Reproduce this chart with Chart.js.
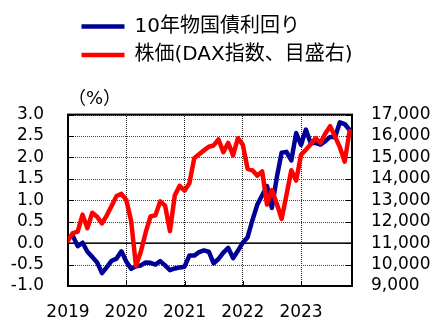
<!DOCTYPE html>
<html lang="ja">
<head>
<meta charset="utf-8">
<title>10年物国債利回りと株価</title>
<script src="https://cdn.jsdelivr.net/npm/chart.js@4/dist/chart.umd.min.js"></script>
<style>
    html, body { margin: 0; padding: 0; background: #fff; }
    canvas { display: block; }
</style>
</head>
<body>
<canvas id="bund_dax_chart" width="432" height="321"></canvas>
<script>
// 月次データ 2019年1月 ～ 2023年11月
const years = ['2019', '2020', '2021', '2022', '2023'];

// 左軸の目盛 (%)
const pctTicks = [-1.0, -0.5, 0.0, 0.5, 1.0, 1.5, 2.0, 2.5, 3.0];

// 10年物国債利回り (%)
const bundYield = [
    0.12, 0.17, -0.07, 0.01, -0.20, -0.32, -0.45, -0.70, -0.56, -0.41, -0.36, -0.19,
    -0.43, -0.60, -0.54, -0.52, -0.45, -0.46, -0.50, -0.42, -0.52, -0.63, -0.59, -0.57,
    -0.55, -0.29, -0.29, -0.21, -0.17, -0.20, -0.47, -0.37, -0.22, -0.11, -0.35, -0.18,
    0.01, 0.14, 0.54, 0.90, 1.12, 1.33, 0.82, 1.53, 2.11, 2.13, 1.93, 2.57,
    2.29, 2.65, 2.33, 2.34, 2.30, 2.38, 2.48, 2.47, 2.82, 2.78, 2.64
];

// 株価 (DAX指数)
const daxIndex = [
    11120, 11470, 11540, 12330, 11700, 12420, 12230, 11920, 12300, 12750, 13200, 13300,
    13020, 12050, 9930, 10600, 11500, 12250, 12300, 12950, 12750, 11560, 13230, 13680,
    13450, 13790, 14960, 15150, 15330, 15500, 15560, 15840, 15250, 15680, 15100, 15900,
    15600, 14470, 14400, 14150, 14350, 12800, 13480, 12850, 12130, 13250, 14400, 13920,
    15120, 15360, 15620, 15900, 15680, 16120, 16460, 15980, 15480, 14800, 16230
];

const seriesLabels = ['10年物国債利回り', '株価(DAX指数、目盛右)'];
const seriesColors = ['#000096', '#ff0000'];

Chart.defaults.font.family = "'DejaVu Sans', 'Noto Sans CJK JP', sans-serif";
Chart.defaults.font.size = 17;
Chart.defaults.color = '#000';

// 点線のグリッド用 (市松模様のパターン)
function dotPattern(color) {
    const c = document.createElement('canvas');
    c.width = 2;
    c.height = 2;
    const g = c.getContext('2d');
    g.fillStyle = color;
    g.fillRect(0, 0, 1, 1);
    g.fillRect(1, 1, 1, 1);
    return g.createPattern(c, 'repeat');
}
const gridDots = dotPattern('#222');

// 横の点線・0%線・内向きの目盛・枠線
const frameTicks = {
    id: 'frameTicks',
    afterLayout(chart) {
        chart.legend.left += 5;
        chart.legend.right += 5;
    },
    beforeDatasetsDraw(chart) {
        const {ctx, chartArea: area, scales} = chart;
        const yScale = scales.y;
        const left = Math.round(area.left);
        const right = Math.round(area.right);
        ctx.save();

        ctx.fillStyle = '#444';
        pctTicks.forEach(v => {
            const py = Math.round(yScale.getPixelForValue(v));
            for (let px = left + 1; px < right; px += 2) {
                ctx.fillRect(px, py, 1, 1);
            }
        });

        ctx.fillStyle = '#000';
        const y0 = yScale.getPixelForValue(0);
        ctx.fillRect(left, y0 - 0.75, right - left, 1.5);

        pctTicks.forEach(v => {
            const py = Math.round(yScale.getPixelForValue(v));
            ctx.fillRect(left, py, 6, 1);
            ctx.fillRect(right - 6, py, 6, 1);
        });
        years.forEach((y, i) => {
            const px = Math.round(scales.x.getPixelForValue(i * 12));
            ctx.fillRect(px, area.bottom - 5, 1, 5);
        });

        ctx.strokeStyle = '#000';
        ctx.lineWidth = 2;
        ctx.strokeRect(area.left, area.top, area.right - area.left, area.bottom - area.top);
        ctx.restore();
    }
};

function fnBundDaxChart() {
    const config = {
        type: 'line',
        data: {
            datasets: [{
                label: seriesLabels[0],
                data: bundYield.map((v, i) => ({ x: i, y: v })),
                borderColor: seriesColors[0],
                backgroundColor: seriesColors[0],
                borderWidth: 4.5,
                borderJoinStyle: 'round',
                borderCapStyle: 'round',
                pointRadius: 0,
                yAxisID: 'y',
                order: 2
            }, {
                label: seriesLabels[1],
                data: daxIndex.map((v, i) => ({ x: i, y: v })),
                borderColor: seriesColors[1],
                backgroundColor: seriesColors[1],
                borderWidth: 4.5,
                borderJoinStyle: 'round',
                borderCapStyle: 'round',
                pointRadius: 0,
                yAxisID: 'y1',
                order: 1
            }]
        },
        options: {
            responsive: false,
            animation: false,
            layout: { padding: { top: 8, left: 0, right: 0, bottom: 0 } },
            scales: {
                x: {
                    type: 'linear',
                    min: 0,
                    max: 58.5,
                    afterBuildTicks: scale => {
                        scale.ticks = years.map((y, i) => ({ value: i * 12 }));
                    },
                    afterFit: scale => { scale.height = 35; },
                    ticks: {
                        autoSkip: false,
                        maxRotation: 0,
                        padding: 16,
                        callback: value => years[Math.round(value / 12)]
                    },
                    grid: {
                        drawTicks: false,
                        lineWidth: 1,
                        color: gridDots
                    },
                    border: { display: false }
                },
                y: {
                    position: 'left',
                    min: -1,
                    max: 3,
                    afterFit: scale => { scale.width = 68; },
                    ticks: {
                        autoSkip: false,
                        stepSize: 0.5,
                        padding: 24,
                        callback: value => value.toFixed(1)
                    },
                    grid: { display: false, drawTicks: false },
                    border: { display: false }
                },
                y1: {
                    position: 'right',
                    min: 9000,
                    max: 17000,
                    afterFit: scale => { scale.width = 80; },
                    ticks: {
                        autoSkip: false,
                        stepSize: 1000,
                        padding: 19,
                        callback: value => value.toLocaleString('en-US')
                    },
                    grid: { display: false, drawTicks: false },
                    border: { display: false }
                }
            },
            plugins: {
                legend: {
                    position: 'top',
                    align: 'start',
                    fullSize: false,
                    weight: 3000,
                    labels: {
                        font: { size: 20 },
                        padding: 8.5,
                        usePointStyle: true,
                        pointStyle: 'line',
                        pointStyleWidth: 43,
                        sort: (a, b) => a.datasetIndex - b.datasetIndex
                    }
                },
                title: {
                    display: true,
                    text: '（%）',
                    position: 'top',
                    align: 'start',
                    fullSize: false,
                    weight: 500,
                    font: { size: 18, weight: 'normal' },
                    padding: { top: 14, bottom: 4 }
                },
                tooltip: { enabled: false }
            }
        },
        plugins: [frameTicks]
    };

    new Chart(document.getElementById('bund_dax_chart'), config);
}

fnBundDaxChart();
</script>
</body>
</html>
